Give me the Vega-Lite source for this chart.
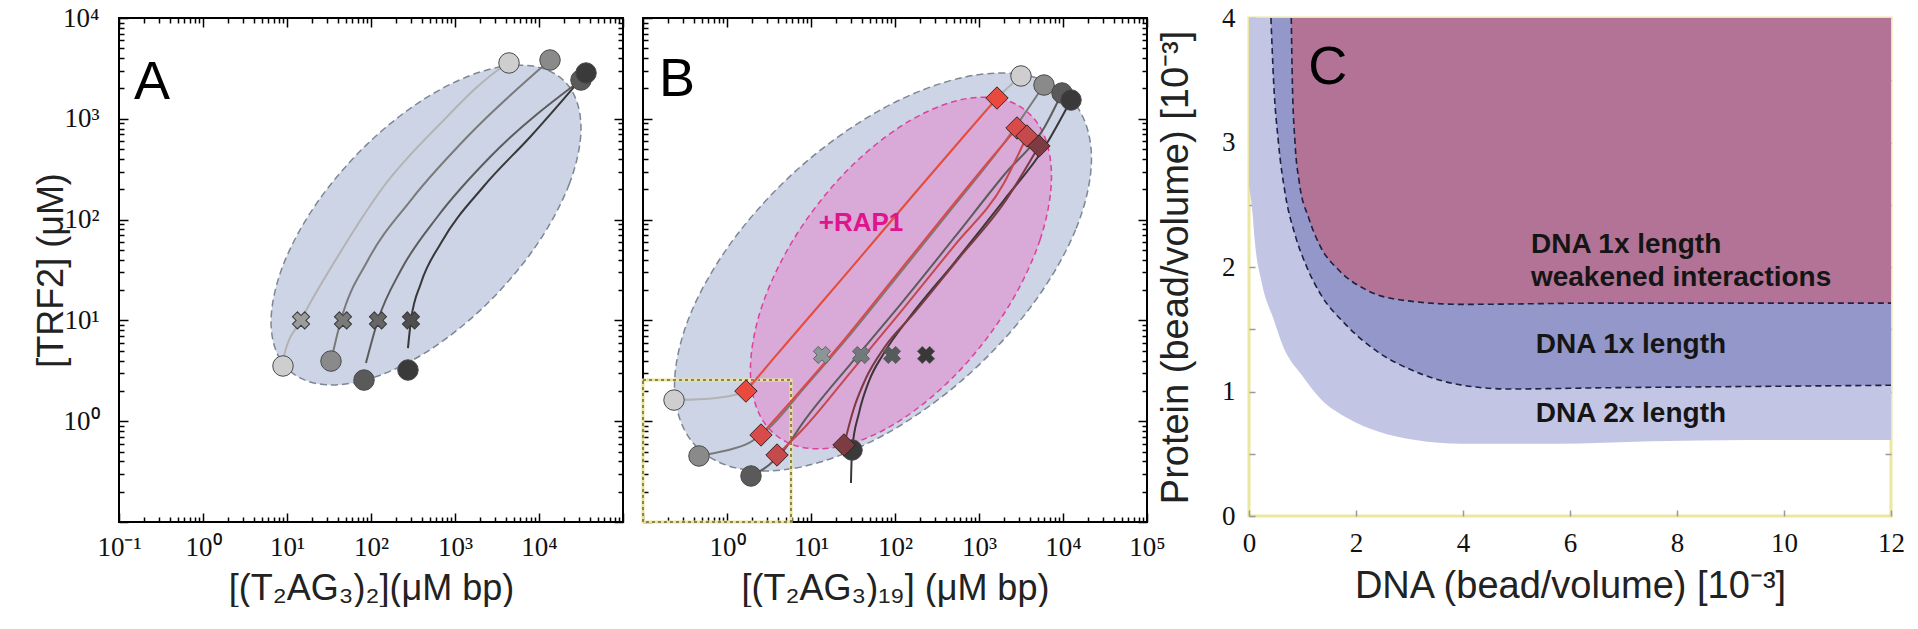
{
  "$schema": "https://vega.github.io/schema/vega-lite/v6.json",
  "background": "white",
  "padding": {"left": 32, "top": 2, "right": 0, "bottom": 0},
  "config": {
    "axis": {"labelFont": "Liberation Serif", "labelFontSize": 27, "labelColor": "#111", "titleFont": "Liberation Sans", "titleFontSize": 36, "titleFontWeight": "normal", "titleColor": "#222", "grid": false, "domain": false, "labelFlush": false, "labelOverlap": false, "tickColor": "#000", "tickWidth": 1.5},
    "text": {"font": "Liberation Sans"},
    "view": {"stroke": "#000", "strokeWidth": 2}
  },
  "datasets": {
    "ell": [
      {"e":"Aout","i":0,"x":31623,"y":809},{"e":"Aout","i":1,"x":22909,"y":224.9},{"e":"Aout","i":2,"x":9120,"y":54.2},{"e":"Aout","i":3,"x":2296,"y":14.06},
      {"e":"Aout","i":4,"x":451.9,"y":4.83},{"e":"Aout","i":5,"x":88.9,"y":2.582},{"e":"Aout","i":6,"x":22.39,"y":2.366},{"e":"Aout","i":7,"x":8.913,"y":3.75},
      {"e":"Aout","i":8,"x":6.457,"y":9.64},{"e":"Aout","i":9,"x":8.913,"y":34.67},{"e":"Aout","i":10,"x":22.39,"y":143.9},{"e":"Aout","i":11,"x":88.9,"y":554.6},
      {"e":"Aout","i":12,"x":451.9,"y":1614},{"e":"Aout","i":13,"x":2296,"y":3020},{"e":"Aout","i":14,"x":9120,"y":3296},{"e":"Aout","i":15,"x":22909,"y":2080},
      {"e":"Bout","i":0,"x":21830,"y":403.6},{"e":"Bout","i":1,"x":14125,"y":79.25},{"e":"Bout","i":2,"x":4093,"y":13.46},{"e":"Bout","i":3,"x":641.2,"y":2.582},
      {"e":"Bout","i":4,"x":71.94,"y":0.7211},{"e":"Bout","i":5,"x":8.072,"y":0.3548},{"e":"Bout","i":6,"x":1.265,"y":0.3443},{"e":"Bout","i":7,"x":0.3664,"y":0.6592},
      {"e":"Bout","i":8,"x":0.2371,"y":2.259},{"e":"Bout","i":9,"x":0.3664,"y":11.51},{"e":"Bout","i":10,"x":1.265,"y":67.76},{"e":"Bout","i":11,"x":8.072,"y":353.2},
      {"e":"Bout","i":12,"x":71.94,"y":1265},{"e":"Bout","i":13,"x":641.2,"y":2570},{"e":"Bout","i":14,"x":4093,"y":2649},{"e":"Bout","i":15,"x":14125,"y":1384},
      {"e":"Bin","i":0,"x":7295,"y":270.4},{"e":"Bin","i":1,"x":5333,"y":63.24},{"e":"Bin","i":2,"x":2178,"y":13.18},{"e":"Bin","i":3,"x":571.5,"y":3.105},
      {"e":"Bin","i":4,"x":117.8,"y":1.03},{"e":"Bin","i":5,"x":24.27,"y":0.5702},{"e":"Bin","i":6,"x":6.368,"y":0.5754},{"e":"Bin","i":7,"x":2.6,"y":1.054},
      {"e":"Bin","i":8,"x":1.901,"y":3.221},{"e":"Bin","i":9,"x":2.6,"y":13.77},{"e":"Bin","i":10,"x":6.368,"y":66.07},{"e":"Bin","i":11,"x":24.27,"y":280.5},
      {"e":"Bin","i":12,"x":117.8,"y":845.3},{"e":"Bin","i":13,"x":571.5,"y":1528},{"e":"Bin","i":14,"x":2178,"y":1514},{"e":"Bin","i":15,"x":5333,"y":826}
    ],
    "cur": [
      {"p":"A","s":"g1","x":8.96,"y":3.53},{"p":"A","s":"g1","x":9.21,"y":4.44},{"p":"A","s":"g1","x":14.7,"y":10.09},{"p":"A","s":"g1","x":40.5,"y":43.5},{"p":"A","s":"g1","x":142.8,"y":215.4},{"p":"A","s":"g1","x":628,"y":849},{"p":"A","s":"g1","x":3830,"y":3342},{"p":"A","s":"g1","x":4395,"y":3580},
      {"p":"A","s":"g2","x":33.4,"y":3.95},{"p":"A","s":"g2","x":43.9,"y":10.09},{"p":"A","s":"g2","x":92.1,"y":39.7},{"p":"A","s":"g2","x":299,"y":156.4},{"p":"A","s":"g2","x":1429,"y":675},{"p":"A","s":"g2","x":13520,"y":3830},
      {"p":"A","s":"g3","x":87.1,"y":3.78},{"p":"A","s":"g3","x":121.2,"y":10.09},{"p":"A","s":"g3","x":227.5,"y":31.6},{"p":"A","s":"g3","x":628,"y":108.6},{"p":"A","s":"g3","x":2685,"y":427.6},{"p":"A","s":"g3","x":31620,"y":2427},
      {"p":"A","s":"g4","x":275.4,"y":5.32},{"p":"A","s":"g4","x":299.5,"y":10.09},{"p":"A","s":"g4","x":393.7,"y":23.5},{"p":"A","s":"g4","x":681,"y":58.6},{"p":"A","s":"g4","x":2213,"y":215.4},{"p":"A","s":"g4","x":8035,"y":675},{"p":"A","s":"g4","x":36300,"y":2846},
      {"p":"B","s":"g1","x":0.234,"y":1.62},{"p":"B","s":"g1","x":0.532,"y":1.66},{"p":"B","s":"g1","x":1.21,"y":1.82},{"p":"B","s":"g1","x":1.68,"y":1.99},{"p":"B","s":"g1","x":3.63,"y":4.24},{"p":"B","s":"g1","x":8.26,"y":9.42},{"p":"B","s":"g1","x":22.8,"y":25.2},{"p":"B","s":"g1","x":68.1,"y":73.6},{"p":"B","s":"g1","x":204,"y":215.4},{"p":"B","s":"g1","x":663,"y":675},{"p":"B","s":"g1","x":1637,"y":1607},{"p":"B","s":"g1","x":3162,"y":2660},
      {"p":"B","s":"g2","x":0.464,"y":0.452},{"p":"B","s":"g2","x":0.921,"y":0.506},{"p":"B","s":"g2","x":1.83,"y":0.608},{"p":"B","s":"g2","x":3.16,"y":0.856},{"p":"B","s":"g2","x":8.26,"y":2.13},{"p":"B","s":"g2","x":32.5,"y":8.03},{"p":"B","s":"g2","x":128,"y":33.1},{"p":"B","s":"g2","x":504,"y":136.5},{"p":"B","s":"g2","x":1986,"y":575},{"p":"B","s":"g2","x":5943,"y":2163},
      {"p":"B","s":"g3","x":1.93,"y":0.286},{"p":"B","s":"g3","x":3.16,"y":0.367},{"p":"B","s":"g3","x":4.77,"y":0.518},{"p":"B","s":"g3","x":8.26,"y":1.0},{"p":"B","s":"g3","x":32.5,"y":4.05},{"p":"B","s":"g3","x":128,"y":15.9},{"p":"B","s":"g3","x":504,"y":65.7},{"p":"B","s":"g3","x":1986,"y":277},{"p":"B","s":"g3","x":5943,"y":811},{"p":"B","s":"g3","x":9730,"y":1803},
      {"p":"B","s":"g4","x":29.9,"y":0.244},{"p":"B","s":"g4","x":30.8,"y":0.518},{"p":"B","s":"g4","x":37.3,"y":1.21},{"p":"B","s":"g4","x":49.0,"y":2.5},{"p":"B","s":"g4","x":74.0,"y":4.75},{"p":"B","s":"g4","x":146.8,"y":10.6},{"p":"B","s":"g4","x":504,"y":37.1},{"p":"B","s":"g4","x":1986,"y":156.4},{"p":"B","s":"g4","x":5943,"y":513},{"p":"B","s":"g4","x":12450,"y":1537},
      {"p":"B","s":"r1","x":1.68,"y":1.99},{"p":"B","s":"r1","x":3.63,"y":4.24},{"p":"B","s":"r1","x":8.26,"y":9.42},{"p":"B","s":"r1","x":22.8,"y":25.2},{"p":"B","s":"r1","x":68.1,"y":73.6},{"p":"B","s":"r1","x":204,"y":215.4},{"p":"B","s":"r1","x":663,"y":675},{"p":"B","s":"r1","x":1637,"y":1607},
      {"p":"B","s":"r2","x":2.54,"y":0.73},{"p":"B","s":"r2","x":6.28,"y":1.7},{"p":"B","s":"r2","x":24.7,"y":6.39},{"p":"B","s":"r2","x":97.3,"y":26.4},{"p":"B","s":"r2","x":383,"y":108.6},{"p":"B","s":"r2","x":1510,"y":437.5},{"p":"B","s":"r2","x":2833,"y":811},
      {"p":"B","s":"r3","x":3.94,"y":0.462},{"p":"B","s":"r3","x":8.26,"y":0.856},{"p":"B","s":"r3","x":32.5,"y":3.37},{"p":"B","s":"r3","x":128,"y":13.3},{"p":"B","s":"r3","x":504,"y":54.7},{"p":"B","s":"r3","x":1986,"y":231},{"p":"B","s":"r3","x":3724,"y":675},
      {"p":"B","s":"r4","x":24.7,"y":0.581},{"p":"B","s":"r4","x":32.5,"y":1.35},{"p":"B","s":"r4","x":45.2,"y":2.68},{"p":"B","s":"r4","x":74.0,"y":5.32},{"p":"B","s":"r4","x":168.3,"y":11.8},{"p":"B","s":"r4","x":578,"y":41.6},{"p":"B","s":"r4","x":1986,"y":146.2},{"p":"B","s":"r4","x":5176,"y":537}
    ],
    "dots": [
      {"p":"A","s":"g1","x":4395,"y":3580},{"p":"A","s":"g2","x":13520,"y":3830},{"p":"A","s":"g3","x":31620,"y":2427},{"p":"A","s":"g4","x":36300,"y":2846},
      {"p":"A","s":"g1","x":8.96,"y":3.53},{"p":"A","s":"g2","x":33.4,"y":3.95},{"p":"A","s":"g3","x":82.6,"y":2.56},{"p":"A","s":"g4","x":275.4,"y":3.22},
      {"p":"B","s":"g1","x":3162,"y":2660},{"p":"B","s":"g2","x":5943,"y":2163},{"p":"B","s":"g3","x":9730,"y":1803},{"p":"B","s":"g4","x":12450,"y":1537},
      {"p":"B","s":"g1","x":0.234,"y":1.62},{"p":"B","s":"g2","x":0.464,"y":0.452},{"p":"B","s":"g3","x":1.93,"y":0.286},{"p":"B","s":"g4","x":30.8,"y":0.518}
    ],
    "crs": [
      {"p":"A","s":"g1","x":14.7,"y":10},{"p":"A","s":"g2","x":46.4,"y":10},{"p":"A","s":"g3","x":121,"y":10},{"p":"A","s":"g4","x":299,"y":10},
      {"p":"B","s":"g1","x":13.5,"y":4.54},{"p":"B","s":"g2","x":39.4,"y":4.54},{"p":"B","s":"g3","x":92.1,"y":4.54},{"p":"B","s":"g4","x":234,"y":4.54}
    ],
    "dia": [
      {"s":"r1","x":1637,"y":1607},{"s":"r2","x":2833,"y":811},{"s":"r3","x":3724,"y":675},{"s":"r4","x":5176,"y":537},
      {"s":"r1","x":1.68,"y":1.99},{"s":"r2","x":2.54,"y":0.73},{"s":"r3","x":3.94,"y":0.462},{"s":"r4","x":24.7,"y":0.581}
    ],
    "box": [{"x":0.1,"x2":5.78,"y":0.1,"y2":2.56}],
    "lab": [
      {"p":"A","t":"A","x":0.247,"y":2265},
      {"p":"B","t":"B","x":0.254,"y":2427},
      {"p":"R","t":"+RAP1","x":39.4,"y":92.5}
    ],
    "cLight": [
      {"x":0,"y":2.65},{"x":0.06,"y":2.46},{"x":0.11,"y":2.2},{"x":0.24,"y":1.87},{"x":0.46,"y":1.58},{"x":0.64,"y":1.36},{"x":0.99,"y":1.13},{"x":1.34,"y":0.94},
      {"x":1.87,"y":0.78},{"x":2.4,"y":0.68},{"x":3.11,"y":0.61},{"x":3.99,"y":0.58},{"x":5.75,"y":0.58},{"x":7.52,"y":0.6},{"x":9.29,"y":0.61},{"x":12,"y":0.61}
    ],
    "c1": [
      {"x":0.41,"y":4.0},{"x":0.46,"y":3.49},{"x":0.55,"y":3.0},{"x":0.68,"y":2.58},{"x":0.86,"y":2.26},{"x":1.08,"y":2.0},{"x":1.34,"y":1.78},{"x":1.78,"y":1.55},
      {"x":2.4,"y":1.32},{"x":3.11,"y":1.16},{"x":3.99,"y":1.05},{"x":4.87,"y":1.02},{"x":6.64,"y":1.03},{"x":9.29,"y":1.04},{"x":12,"y":1.05}
    ],
    "c2": [
      {"x":0.79,"y":4.0},{"x":0.81,"y":3.49},{"x":0.86,"y":3.0},{"x":0.94,"y":2.68},{"x":1.12,"y":2.39},{"x":1.34,"y":2.16},{"x":1.69,"y":1.97},{"x":2.22,"y":1.81},
      {"x":2.93,"y":1.73},{"x":3.99,"y":1.7},{"x":6.64,"y":1.71},{"x":9.29,"y":1.71},{"x":12,"y":1.71}
    ],
    "cText": [
      {"t":"DNA 1x length","x":5.27,"y":2.18},
      {"t":"weakened interactions","x":5.27,"y":1.91},
      {"t":"DNA 1x length","x":5.36,"y":1.37},
      {"t":"DNA 2x length","x":5.36,"y":0.82}
    ]
  },
  "resolve": {"scale": {"color": "independent"}},
  "spacing": -12,
  "hconcat": [
    {
      "spacing": 15,
      "resolve": {"scale": {"color": "independent"}},
      "hconcat": [
        {
          "width": 504, "height": 504,
          "resolve": {"axis": {"x": "independent", "y": "independent"}, "scale": {"color": "independent"}},
          "layer": [
            {
              "data": {"name": "ell"},
              "transform": [{"filter": "datum.e == 'Aout'"}],
              "mark": {"type": "line", "interpolate": "cardinal-closed", "fill": "#ccd4e6", "stroke": "#7f8792", "strokeWidth": 1.5, "strokeDash": [7, 4]},
              "encoding": {
                "x": {"field": "x", "type": "quantitative", "scale": {"type": "log", "domain": [0.1, 100000], "nice": false},
                      "axis": {"orient": "bottom", "values": [0.1, 1, 10, 100, 1000, 10000, 100000], "tickSize": -9, "labelPadding": 21, "labelFont": "Liberation Serif", "labelExpr": "datum.value > 50000 ? '' : ['10⁻¹','10⁰','10¹','10²','10³','10⁴','10⁵'][round(log(datum.value)/LN10)+1]", "title": "[(T₂AG₃)₂](μM bp)", "titlePadding": 11}},
                "y": {"field": "y", "type": "quantitative", "scale": {"type": "log", "domain": [0.1, 10000], "nice": false},
                      "axis": {"orient": "left", "values": [0.1, 1, 10, 100, 1000, 10000], "tickSize": -9, "labelPadding": 29, "labelFont": "Liberation Serif", "labelExpr": "datum.value < 0.5 ? '' : ['10⁻¹','10⁰','10¹','10²','10³','10⁴'][round(log(datum.value)/LN10)+1]", "title": "[TRF2] (μM)", "titlePadding": -8}},
                "order": {"field": "i", "type": "quantitative"}
              }
            },
            {
              "data": {"name": "cur"},
              "transform": [{"filter": "datum.p == 'A'"}],
              "mark": {"type": "line", "interpolate": "monotone", "strokeWidth": 2},
              "encoding": {
                "x": {"field": "x", "type": "quantitative", "scale": {"type": "log", "domain": [0.1, 100000], "nice": false},
                      "axis": {"orient": "bottom", "values": [0.2,0.3,0.4,0.5,0.6,0.7,0.8,0.9,2,3,4,5,6,7,8,9,20,30,40,50,60,70,80,90,200,300,400,500,600,700,800,900,2000,3000,4000,5000,6000,7000,8000,9000,20000,30000,40000,50000,60000,70000,80000,90000], "tickSize": -5, "labels": false, "title": null}},
                "y": {"field": "y", "type": "quantitative", "scale": {"type": "log", "domain": [0.1, 10000], "nice": false},
                      "axis": {"orient": "left", "values": [0.2,0.3,0.4,0.5,0.6,0.7,0.8,0.9,2,3,4,5,6,7,8,9,20,30,40,50,60,70,80,90,200,300,400,500,600,700,800,900,2000,3000,4000,5000,6000,7000,8000,9000], "tickSize": -5, "labels": false, "title": null}},
                "color": {"field": "s", "type": "nominal", "legend": null, "scale": {"domain": ["g1","g2","g3","g4"], "range": ["#b3b3b3","#7a7a7a","#5c5c5c","#383838"]}}
              }
            },
            {
              "data": {"name": "dots"},
              "transform": [{"filter": "datum.p == 'A'"}],
              "mark": {"type": "point", "shape": "circle", "filled": true, "size": 420, "opacity": 1, "stroke": "#4a4a4a", "strokeWidth": 1},
              "encoding": {
                "x": {"field": "x", "type": "quantitative", "scale": {"type": "log", "domain": [0.1, 100000], "nice": false},
                      "axis": {"orient": "top", "values": [0.1, 1, 10, 100, 1000, 10000, 100000], "tickSize": -9, "labels": false, "title": null}},
                "y": {"field": "y", "type": "quantitative", "scale": {"type": "log", "domain": [0.1, 10000], "nice": false},
                      "axis": {"orient": "right", "values": [0.1, 1, 10, 100, 1000, 10000], "tickSize": -9, "labels": false, "title": null}},
                "color": {"field": "s", "type": "nominal", "legend": null, "scale": {"domain": ["g1","g2","g3","g4"], "range": ["#cecece","#8a8a8a","#5a5a5a","#3a3a3a"]}}
              }
            },
            {
              "data": {"name": "crs"},
              "transform": [{"filter": "datum.p == 'A'"}],
              "mark": {"type": "point", "shape": "cross", "angle": 45, "filled": true, "size": 300, "opacity": 1, "stroke": "#3a3a3a", "strokeWidth": 1},
              "encoding": {
                "x": {"field": "x", "type": "quantitative", "scale": {"type": "log", "domain": [0.1, 100000], "nice": false},
                      "axis": {"orient": "top", "values": [0.2,0.3,0.4,0.5,0.6,0.7,0.8,0.9,2,3,4,5,6,7,8,9,20,30,40,50,60,70,80,90,200,300,400,500,600,700,800,900,2000,3000,4000,5000,6000,7000,8000,9000,20000,30000,40000,50000,60000,70000,80000,90000], "tickSize": -5, "labels": false, "title": null}},
                "y": {"field": "y", "type": "quantitative", "scale": {"type": "log", "domain": [0.1, 10000], "nice": false},
                      "axis": {"orient": "right", "values": [0.2,0.3,0.4,0.5,0.6,0.7,0.8,0.9,2,3,4,5,6,7,8,9,20,30,40,50,60,70,80,90,200,300,400,500,600,700,800,900,2000,3000,4000,5000,6000,7000,8000,9000], "tickSize": -5, "labels": false, "title": null}},
                "color": {"field": "s", "type": "nominal", "legend": null, "scale": {"domain": ["g1","g2","g3","g4"], "range": ["#9c9c9c","#7a7a7a","#666666","#4e4e4e"]}}
              }
            },
            {
              "data": {"name": "lab"},
              "transform": [{"filter": "datum.p == 'A'"}],
              "mark": {"type": "text", "font": "Liberation Sans", "fontSize": 54, "align": "center", "baseline": "middle", "color": "#000"},
              "encoding": {
                "x": {"field": "x", "type": "quantitative", "scale": {"type": "log", "domain": [0.1, 100000], "nice": false}, "axis": null},
                "y": {"field": "y", "type": "quantitative", "scale": {"type": "log", "domain": [0.1, 10000], "nice": false}, "axis": null},
                "text": {"field": "t"}
              }
            }
          ]
        },
        {
          "width": 504, "height": 504,
          "resolve": {"axis": {"x": "independent", "y": "independent"}, "scale": {"color": "independent"}},
          "layer": [
            {
              "data": {"name": "ell"},
              "transform": [{"filter": "datum.e == 'Bout'"}],
              "mark": {"type": "line", "interpolate": "cardinal-closed", "fill": "#ccd4e6", "stroke": "#7f8792", "strokeWidth": 1.5, "strokeDash": [7, 4]},
              "encoding": {
                "x": {"field": "x", "type": "quantitative", "scale": {"type": "log", "domain": [0.1, 100000], "nice": false},
                      "axis": {"orient": "bottom", "values": [0.1, 1, 10, 100, 1000, 10000, 100000], "tickSize": -9, "labelPadding": 21, "labelFont": "Liberation Serif", "labelExpr": "datum.value < 0.5 ? '' : ['10⁻¹','10⁰','10¹','10²','10³','10⁴','10⁵'][round(log(datum.value)/LN10)+1]", "title": "[(T₂AG₃)₁₉] (μM bp)", "titlePadding": 11}},
                "y": {"field": "y", "type": "quantitative", "scale": {"type": "log", "domain": [0.1, 10000], "nice": false},
                      "axis": {"orient": "left", "values": [0.1, 1, 10, 100, 1000, 10000], "tickSize": -9, "labels": false, "title": null}},
                "order": {"field": "i", "type": "quantitative"}
              }
            },
            {
              "data": {"name": "ell"},
              "transform": [{"filter": "datum.e == 'Bin'"}],
              "mark": {"type": "line", "interpolate": "cardinal-closed", "fill": "#d9a9d8", "stroke": "#e0409a", "strokeWidth": 1.5, "strokeDash": [6, 4]},
              "encoding": {
                "x": {"field": "x", "type": "quantitative", "scale": {"type": "log", "domain": [0.1, 100000], "nice": false},
                      "axis": {"orient": "bottom", "values": [0.2,0.3,0.4,0.5,0.6,0.7,0.8,0.9,2,3,4,5,6,7,8,9,20,30,40,50,60,70,80,90,200,300,400,500,600,700,800,900,2000,3000,4000,5000,6000,7000,8000,9000,20000,30000,40000,50000,60000,70000,80000,90000], "tickSize": -5, "labels": false, "title": null}},
                "y": {"field": "y", "type": "quantitative", "scale": {"type": "log", "domain": [0.1, 10000], "nice": false},
                      "axis": {"orient": "left", "values": [0.2,0.3,0.4,0.5,0.6,0.7,0.8,0.9,2,3,4,5,6,7,8,9,20,30,40,50,60,70,80,90,200,300,400,500,600,700,800,900,2000,3000,4000,5000,6000,7000,8000,9000], "tickSize": -5, "labels": false, "title": null}},
                "order": {"field": "i", "type": "quantitative"}
              }
            },
            {
              "data": {"name": "box"},
              "mark": {"type": "rect", "fill": null, "fillOpacity": 0, "stroke": "#ebe39a", "strokeWidth": 3},
              "encoding": {
                "x": {"field": "x", "type": "quantitative", "scale": {"type": "log", "domain": [0.1, 100000], "nice": false},
                      "axis": {"orient": "top", "values": [0.1, 1, 10, 100, 1000, 10000, 100000], "tickSize": -9, "labels": false, "title": null}},
                "x2": {"field": "x2"},
                "y": {"field": "y", "type": "quantitative", "scale": {"type": "log", "domain": [0.1, 10000], "nice": false},
                      "axis": {"orient": "right", "values": [0.1, 1, 10, 100, 1000, 10000], "tickSize": -9, "labels": false, "title": null}},
                "y2": {"field": "y2"}
              }
            },
            {
              "data": {"name": "box"},
              "mark": {"type": "rect", "fill": null, "fillOpacity": 0, "stroke": "#6e6432", "strokeWidth": 1.5, "strokeDash": [3, 3]},
              "encoding": {
                "x": {"field": "x", "type": "quantitative", "scale": {"type": "log", "domain": [0.1, 100000], "nice": false},
                      "axis": {"orient": "top", "values": [0.2,0.3,0.4,0.5,0.6,0.7,0.8,0.9,2,3,4,5,6,7,8,9,20,30,40,50,60,70,80,90,200,300,400,500,600,700,800,900,2000,3000,4000,5000,6000,7000,8000,9000,20000,30000,40000,50000,60000,70000,80000,90000], "tickSize": -5, "labels": false, "title": null}},
                "x2": {"field": "x2"},
                "y": {"field": "y", "type": "quantitative", "scale": {"type": "log", "domain": [0.1, 10000], "nice": false},
                      "axis": {"orient": "right", "values": [0.2,0.3,0.4,0.5,0.6,0.7,0.8,0.9,2,3,4,5,6,7,8,9,20,30,40,50,60,70,80,90,200,300,400,500,600,700,800,900,2000,3000,4000,5000,6000,7000,8000,9000], "tickSize": -5, "labels": false, "title": null}},
                "y2": {"field": "y2"}
              }
            },
            {
              "data": {"name": "cur"},
              "transform": [{"filter": "datum.p == 'B'"}],
              "mark": {"type": "line", "interpolate": "monotone", "strokeWidth": 2},
              "encoding": {
                "x": {"field": "x", "type": "quantitative", "scale": {"type": "log", "domain": [0.1, 100000], "nice": false}, "axis": null},
                "y": {"field": "y", "type": "quantitative", "scale": {"type": "log", "domain": [0.1, 10000], "nice": false}, "axis": null},
                "color": {"field": "s", "type": "nominal", "legend": null, "scale": {"domain": ["g1","g2","g3","g4","r1","r2","r3","r4"], "range": ["#b3b3b3","#7a7a7a","#5c5c5c","#383838","#ea4a3e","#d94a4a","#c24a50","#7a3a40"]}}
              }
            },
            {
              "data": {"name": "crs"},
              "transform": [{"filter": "datum.p == 'B'"}],
              "mark": {"type": "point", "shape": "cross", "angle": 45, "filled": true, "size": 300, "opacity": 1, "stroke": "#555", "strokeWidth": 0.8},
              "encoding": {
                "x": {"field": "x", "type": "quantitative", "scale": {"type": "log", "domain": [0.1, 100000], "nice": false}, "axis": null},
                "y": {"field": "y", "type": "quantitative", "scale": {"type": "log", "domain": [0.1, 10000], "nice": false}, "axis": null},
                "color": {"field": "s", "type": "nominal", "legend": null, "scale": {"domain": ["g1","g2","g3","g4"], "range": ["#8d9696","#707a7a","#535b5b","#383838"]}}
              }
            },
            {
              "data": {"name": "dots"},
              "transform": [{"filter": "datum.p == 'B'"}],
              "mark": {"type": "point", "shape": "circle", "filled": true, "size": 420, "opacity": 1, "stroke": "#4a4a4a", "strokeWidth": 1},
              "encoding": {
                "x": {"field": "x", "type": "quantitative", "scale": {"type": "log", "domain": [0.1, 100000], "nice": false}, "axis": null},
                "y": {"field": "y", "type": "quantitative", "scale": {"type": "log", "domain": [0.1, 10000], "nice": false}, "axis": null},
                "color": {"field": "s", "type": "nominal", "legend": null, "scale": {"domain": ["g1","g2","g3","g4"], "range": ["#cecece","#8a8a8a","#5a5a5a","#3a3a3a"]}}
              }
            },
            {
              "data": {"name": "dia"},
              "mark": {"type": "point", "shape": "diamond", "filled": true, "size": 500, "opacity": 1, "stroke": "#3a2222", "strokeWidth": 1},
              "encoding": {
                "x": {"field": "x", "type": "quantitative", "scale": {"type": "log", "domain": [0.1, 100000], "nice": false}, "axis": null},
                "y": {"field": "y", "type": "quantitative", "scale": {"type": "log", "domain": [0.1, 10000], "nice": false}, "axis": null},
                "color": {"field": "s", "type": "nominal", "legend": null, "scale": {"domain": ["r1","r2","r3","r4"], "range": ["#ea4a3e","#d94a4a","#c44a4e","#7c3c42"]}}
              }
            },
            {
              "data": {"name": "lab"},
              "transform": [{"filter": "datum.p == 'B'"}],
              "mark": {"type": "text", "font": "Liberation Sans", "fontSize": 54, "align": "center", "baseline": "middle", "color": "#000"},
              "encoding": {
                "x": {"field": "x", "type": "quantitative", "scale": {"type": "log", "domain": [0.1, 100000], "nice": false}, "axis": null},
                "y": {"field": "y", "type": "quantitative", "scale": {"type": "log", "domain": [0.1, 10000], "nice": false}, "axis": null},
                "text": {"field": "t"}
              }
            },
            {
              "data": {"name": "lab"},
              "transform": [{"filter": "datum.p == 'R'"}],
              "mark": {"type": "text", "font": "Liberation Sans", "fontSize": 26, "fontWeight": "bold", "align": "center", "baseline": "middle", "color": "#e0148c"},
              "encoding": {
                "x": {"field": "x", "type": "quantitative", "scale": {"type": "log", "domain": [0.1, 100000], "nice": false}, "axis": null},
                "y": {"field": "y", "type": "quantitative", "scale": {"type": "log", "domain": [0.1, 10000], "nice": false}, "axis": null},
                "text": {"field": "t"}
              }
            }
          ]
        }
      ]
    },
    {
      "width": 642, "height": 498,
      "view": {"stroke": "#ebe6a0", "strokeWidth": 3},
      "resolve": {"axis": {"x": "independent", "y": "independent"}},
      "layer": [
        {
          "data": {"name": "cLight"},
          "mark": {"type": "area", "interpolate": "monotone", "color": "#c3c5e4"},
          "encoding": {
            "x": {"field": "x", "type": "quantitative", "scale": {"domain": [0, 12], "nice": false},
                  "axis": {"orient": "bottom", "values": [0, 2, 4, 6, 8, 10, 12], "tickSize": -6, "tickColor": "#9a9a9a", "labelPadding": 20, "labelFont": "Liberation Serif", "labelFontSize": 27, "title": "DNA (bead/volume) [10⁻³]", "titleFontSize": 38, "titlePadding": 11}},
            "y": {"field": "y", "type": "quantitative", "scale": {"domain": [0, 4], "nice": false},
                  "axis": {"orient": "left", "values": [0, 0.5, 1, 1.5, 2, 2.5, 3, 3.5, 4], "tickSize": -6, "tickColor": "#9a9a9a", "labelPadding": 20, "labelFont": "Liberation Serif", "labelFontSize": 27, "labelExpr": "datum.value % 1 == 0 ? format(datum.value, 'd') : ''", "title": "Protein (bead/volume) [10⁻³]", "titleFontSize": 38, "titlePadding": 26}},
            "y2": {"datum": 4}
          }
        },
        {
          "data": {"name": "c1"},
          "mark": {"type": "area", "interpolate": "monotone", "color": "#9497ca"},
          "encoding": {
            "x": {"field": "x", "type": "quantitative", "scale": {"domain": [0, 12], "nice": false}, "axis": null},
            "y": {"field": "y", "type": "quantitative", "scale": {"domain": [0, 4], "nice": false},
                  "axis": {"orient": "right", "values": [0.5, 1, 1.5, 2, 2.5, 3, 3.5], "tickSize": -6, "tickColor": "#9a9a9a", "labels": false, "title": null}},
            "y2": {"datum": 4}
          }
        },
        {
          "data": {"name": "c2"},
          "mark": {"type": "area", "interpolate": "monotone", "color": "#b27396"},
          "encoding": {
            "x": {"field": "x", "type": "quantitative", "scale": {"domain": [0, 12], "nice": false}, "axis": null},
            "y": {"field": "y", "type": "quantitative", "scale": {"domain": [0, 4], "nice": false}, "axis": null},
            "y2": {"datum": 4}
          }
        },
        {
          "data": {"name": "c1"},
          "mark": {"type": "line", "interpolate": "monotone", "color": "#1e2140", "strokeWidth": 1.6, "strokeDash": [6, 4]},
          "encoding": {
            "x": {"field": "x", "type": "quantitative", "scale": {"domain": [0, 12], "nice": false}, "axis": null},
            "y": {"field": "y", "type": "quantitative", "scale": {"domain": [0, 4], "nice": false}, "axis": null}
          }
        },
        {
          "data": {"name": "c2"},
          "mark": {"type": "line", "interpolate": "monotone", "color": "#1e2140", "strokeWidth": 1.6, "strokeDash": [6, 4]},
          "encoding": {
            "x": {"field": "x", "type": "quantitative", "scale": {"domain": [0, 12], "nice": false}, "axis": null},
            "y": {"field": "y", "type": "quantitative", "scale": {"domain": [0, 4], "nice": false}, "axis": null}
          }
        },
        {
          "data": {"name": "cText"},
          "mark": {"type": "text", "font": "Liberation Sans", "fontSize": 28, "fontWeight": "bold", "align": "left", "baseline": "middle", "color": "#151515"},
          "encoding": {
            "x": {"field": "x", "type": "quantitative", "scale": {"domain": [0, 12], "nice": false}, "axis": null},
            "y": {"field": "y", "type": "quantitative", "scale": {"domain": [0, 4], "nice": false}, "axis": null},
            "text": {"field": "t"}
          }
        },
        {
          "data": {"values": [{"t": "C", "x": 1.47, "y": 3.6}]},
          "mark": {"type": "text", "font": "Liberation Sans", "fontSize": 54, "align": "center", "baseline": "middle", "color": "#000"},
          "encoding": {
            "x": {"field": "x", "type": "quantitative", "scale": {"domain": [0, 12], "nice": false}, "axis": null},
            "y": {"field": "y", "type": "quantitative", "scale": {"domain": [0, 4], "nice": false}, "axis": null},
            "text": {"field": "t"}
          }
        }
      ]
    }
  ]
}
